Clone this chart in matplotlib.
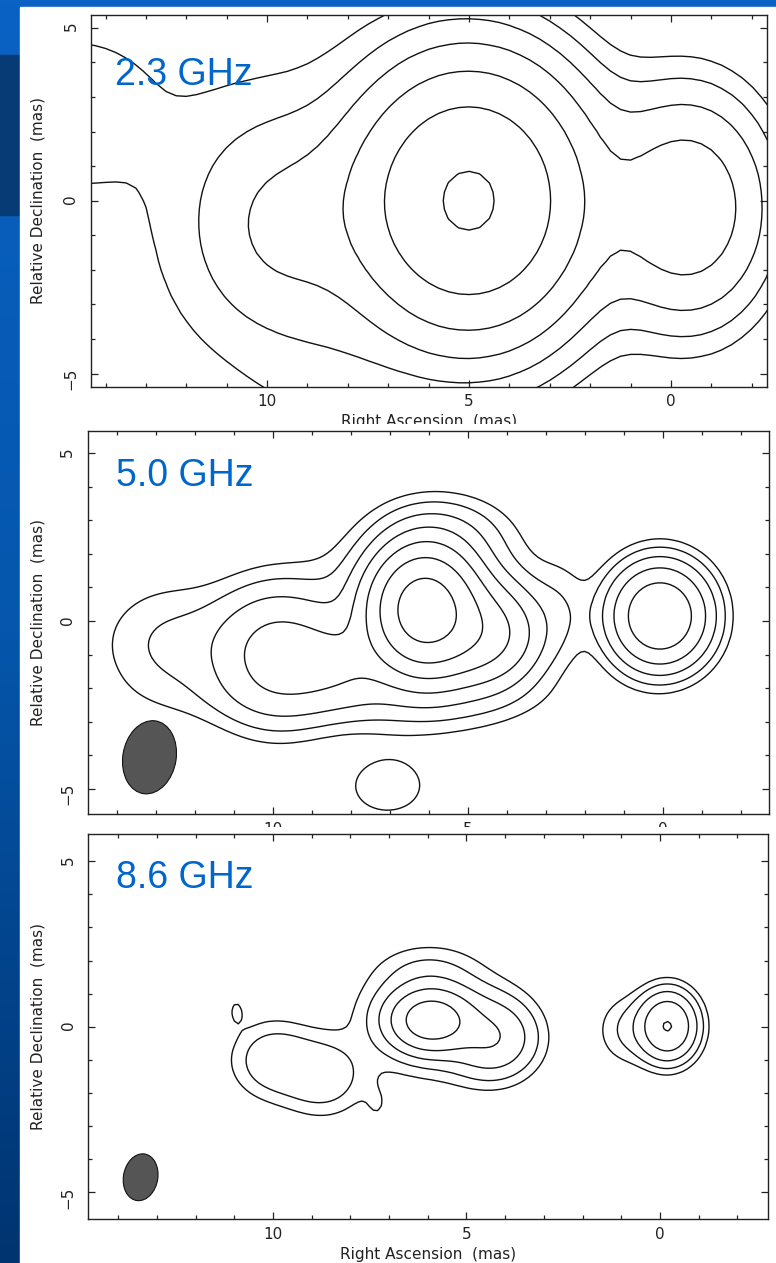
import numpy as np
import matplotlib.pyplot as plt
from matplotlib.patches import Ellipse, Rectangle
from matplotlib.colors import LinearSegmentedColormap

W, H = 776, 1263

labels = ['2.3 GHz', '5.0 GHz', '8.6 GHz']

# Gaussian model components of each map: RA, Dec (mas), peak, sigma RA, sigma Dec, rotation (deg)
ra_23 = [5.0, -0.4, 9.6, 13.0, 15.3, 8.5]
dec_23 = [0.0, -0.2, -0.7, 0.0, 2.6, -5.0]
amp_23 = [34.4, 6.6, 4.0, 0.68, 0.75, 0.6]
sra_23 = [1.62, 1.2, 1.4, 4.5, 2.0, 1.2]
sdec_23 = [2.18, 1.9, 2.0, 14.0, 1.8, 1.2]
rot_23 = [0, 0, 0, 0, 0, 0]
lev_23 = [0.5, 1, 2, 4, 8, 16, 32]

ra_50 = [0.07, 6.1, 6.0, 9.9, 12.6, 5.6, 7.5, 2.6, 4.6, 8.3, 7.06]
dec_50 = [0.15, 0.35, 0.0, -1.0, -0.7, 2.6, -2.3, 0.3, -0.4, -1.3, -4.95]
amp_50 = [30, 90, 6, 10, 2.2, 2.5, 1.2, 1.2, 18, 5, 1.6]
sra_50 = [0.72, 0.74, 1.6, 1.0, 1.2, 1.0, 3.0, 0.5, 0.8, 0.9, 0.81]
sdec_50 = [0.88, 1.0, 1.6, 1.2, 1.2, 0.7, 0.6, 1.0, 0.85, 0.8, 0.7]
rot_50 = [0, 0, 0, 0, 0, 0, 0, 0, 0, 0, 0]
lev_50 = [1, 2, 4, 8, 16, 32, 64]

ra_86 = [-0.2, 0.9, 5.92, 5.9, 4.3, 6.0, 10.0, 8.7, 7.3, 10.95]
dec_86 = [0.02, -0.1, 0.2, 0.3, -0.35, 1.7, -1.0, -1.5, -2.4, 0.5]
amp_86 = [16.3, 1.9, 22, 3.5, 7.0, 1.1, 3.2, 3.2, 0.8, 1.05]
sra_86 = [0.45, 0.5, 0.62, 1.2, 0.7, 0.8, 0.7, 0.7, 0.25, 0.18]
sdec_86 = [0.62, 0.7, 0.54, 1.1, 0.75, 0.5, 0.75, 0.75, 0.45, 0.35]
rot_86 = [0, 0, 0, 0, 0, 0, 0, 0, 0, 0]
lev_86 = [1, 2, 4, 8, 16]

# map pixel size (mas)
pix = [0.25, 0.1, 0.1]

# restoring beams: RA, Dec, width, height, angle
beam_50 = [13.16, -4.06, 1.37, 2.19, 7]
beam_86 = [13.42, -4.54, 0.89, 1.42, 7]

maps = [
    (ra_23, dec_23, amp_23, sra_23, sdec_23, rot_23, lev_23),
    (ra_50, dec_50, amp_50, sra_50, sdec_50, rot_50, lev_50),
    (ra_86, dec_86, amp_86, sra_86, sdec_86, rot_86, lev_86),
]
beams = [None, beam_50, beam_86]

# axes boxes in pixels (left, top, right, bottom) and ranges
boxes = [(91, 14.7, 766.7, 386.7), (87.5, 431, 768.7, 814), (88, 834, 768.3, 1219)]
xlims = [(14.36, -2.37), (14.75, -2.72), (14.78, -2.8)]
ylims = [(-5.38, 5.38), (-5.75, 5.66), (-5.8, 5.82)]
label_pos = [(0.0355, 0.811), (0.0415, 0.856), (0.0407, 0.8605)]

fig = plt.figure(figsize=(W / 100, H / 100), dpi=100)

# slide background
bg = fig.add_axes([0, 0, 1, 1], zorder=-10)
bg.set_xlim(0, W)
bg.set_ylim(H, 0)
bg.axis('off')
cmap = LinearSegmentedColormap.from_list('bg', ['#0a62c4', '#0556ac', '#003470'])
bg.imshow(np.linspace(0, 1, 256).reshape(-1, 1), cmap=cmap, extent=[0, W, H, 0], aspect='auto')
bg.add_patch(Rectangle((0, 55), 20, 160, color='#063b76'))
bg.add_patch(Rectangle((20, 7), W - 20, H - 7, color='white'))

for i, (box, m) in enumerate(zip(boxes, maps)):
    l, t, r, b = box
    ax = fig.add_axes([l / W, 1 - b / H, (r - l) / W, (b - t) / H])
    ax.set_zorder(i + 1)

    X, Y = np.meshgrid(np.arange(-5, 17, pix[i]), np.arange(-8, 8, pix[i]))
    ra, dec, amp, sra, sdec, rot, lev = m
    Z = np.zeros_like(X)
    for x0, y0, a, sx, sy, th in zip(ra, dec, amp, sra, sdec, rot):
        th = np.radians(th)
        u = (X - x0) * np.cos(th) + (Y - y0) * np.sin(th)
        v = -(X - x0) * np.sin(th) + (Y - y0) * np.cos(th)
        Z += a * np.exp(-(u ** 2 / (2 * sx ** 2) + v ** 2 / (2 * sy ** 2)))
    ax.contour(X, Y, Z, levels=lev, colors='#111111', linewidths=1.0)

    if beams[i] is not None:
        bx, by, bw, bh, ba = beams[i]
        ax.add_patch(Ellipse((bx, by), bw, bh, angle=ba, facecolor='#555555',
                             edgecolor='#111111', lw=0.8))

    ax.set_xlim(*xlims[i])
    ax.set_ylim(*ylims[i])
    ax.set_xticks([10, 5, 0])
    ax.set_yticks([-5, 0, 5])
    ax.set_xticks(np.arange(-2, 15), minor=True)
    ax.set_yticks(np.arange(-5, 6), minor=True)
    ax.tick_params(which='both', direction='in', top=True, right=True,
                   color='#222222', width=0.9, labelsize=11, labelcolor='#222222')
    ax.tick_params(which='major', length=5.3)
    ax.tick_params(which='minor', length=3.1)
    ax.tick_params(axis='y', labelrotation=90, pad=9)
    ax.tick_params(axis='x', pad=5.5)
    for s in ax.spines.values():
        s.set_color('#222222')
        s.set_linewidth(1.0)

    ax.set_xlabel('Right Ascension  (mas)', fontsize=11, color='#222222')
    ax.set_ylabel('Relative Declination  (mas)', fontsize=11, color='#222222')
    ax.xaxis.label.set_va('center')
    ax.yaxis.label.set_va('center')
    ax.xaxis.set_label_coords(0.5, -35 / (b - t))
    ax.yaxis.set_label_coords((38 - l) / (r - l), 0.5)

    lx, ly = label_pos[i]
    ax.text(lx, ly, labels[i], transform=ax.transAxes, fontsize=27,
            family='Liberation Sans', color='#0066cc', va='baseline', zorder=5)

    # white margin of the next panel hides the bottom of this one
    if i > 0:
        fig.add_artist(Rectangle((20 / W, 1 - t / H), (W - 20) / W, 7 / H,
                                 transform=fig.transFigure, facecolor='white',
                                 edgecolor='none', zorder=i + 0.5))

fig.savefig('out.png', dpi=100)
